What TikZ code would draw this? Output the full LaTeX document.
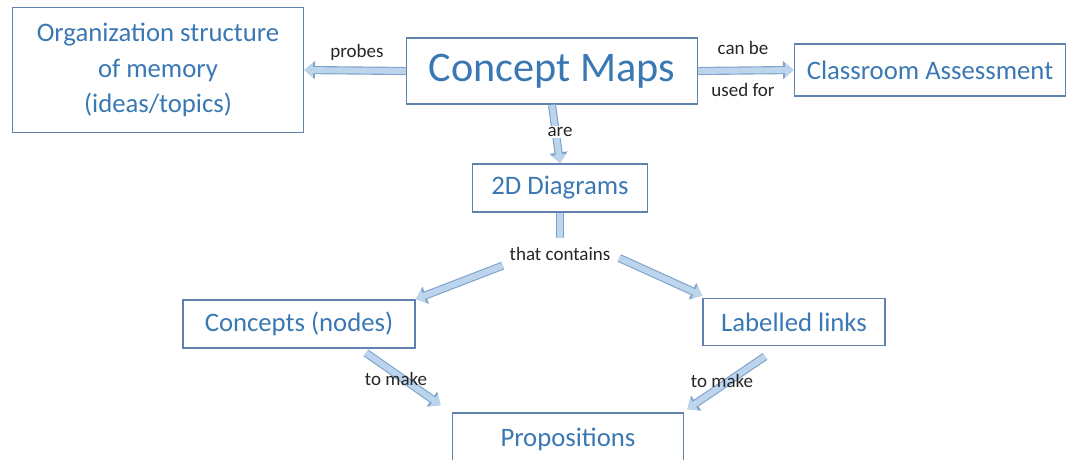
\documentclass[tikz,border=0pt]{standalone}
\usepackage{fontspec}
\setmainfont{Carlito}
\usetikzlibrary{arrows.meta, calc}
\definecolor{cmtext}{HTML}{3A78B4}
\definecolor{cmedge}{HTML}{5F83AC}
\definecolor{arrfill}{HTML}{BCD4EC}
\definecolor{arredge}{HTML}{7FA4CC}

\tikzset{
  box/.style={draw=cmedge, line width=1.3pt, text=cmtext, font=\fontsize{19}{23}\selectfont, inner sep=0pt},
  linklabel/.style={font=\fontsize{13.5}{16}\selectfont, text=black!85},
  link/.style={draw=arrfill, line width=4.2pt, -{Triangle[length=6pt,width=10pt]},
    preaction={draw=arredge, line width=5.8pt, -{Triangle[length=7.5pt,width=12.5pt]}}},
  stub/.style={draw=arrfill, line width=4.2pt, preaction={draw=arredge, line width=5.8pt}}
}

\begin{document}
\begin{tikzpicture}[x=0.025cm, y=-0.025cm]
\useasboundingbox (0,0) rectangle (1079,460);

\node[box, minimum width=291*0.025cm, minimum height=125*0.025cm, align=center,
  font=\fontsize{19}{25.5}\selectfont] (org) at (158,70)
  {Organization structure\\ of memory\\ (ideas/topics)};
\node[box, minimum width=291*0.025cm, minimum height=66*0.025cm, font=\fontsize{30}{34}\selectfont] (cm) at (552,71) {Concept Maps};
\node[box, minimum width=271*0.025cm, minimum height=52*0.025cm] (ca) at (930,70) {Classroom Assessment};
\node[box, minimum width=175*0.025cm, minimum height=48*0.025cm] (dd) at (560,188) {2D Diagrams};
\node[box, minimum width=232*0.025cm, minimum height=48*0.025cm] (cn) at (299,324) {Concepts (nodes)};
\node[box, minimum width=182*0.025cm, minimum height=47*0.025cm] (ll) at (794,322) {Labelled links};
\node[box, minimum width=231*0.025cm, minimum height=52*0.025cm] (pr) at (568,439) {Propositions};

\node[linklabel] (tc) at (560,254) {that contains};

\draw[link] (cm.west) -- (org.east);
\draw[link] (cm.east) -- (ca.west);
\draw[link] (cm.south) -- (dd.north);
\draw[stub] (dd.south) -- ($(tc.north)+(0,-4)$);
\draw[link] ($(tc.south west)+(-2,0)$) -- (cn.north east);
\draw[link] ($(tc.east)+(4,4)$) -- ($(ll.north west)+(0,-2)$);
\draw[link] ($(cn.south)+(67,4)$) -- ($(pr.north west)+(-11,-7)$);
\draw[link] ($(ll.south)+(-29,10)$) -- ($(pr.north east)+(3,-3)$);

\node[linklabel] (l1) at (357,52) {probes};
\node[linklabel] (l2) at (743,48) {can be};
\node[linklabel] (l3) at (743,90) {used for};
\node[linklabel, fill=white, inner sep=1pt] (l4) at (560,132) {are};
\node[linklabel] (l5) at (396,379) {to make};
\node[linklabel] (l6) at (722,381) {to make};

\end{tikzpicture}
\end{document}
